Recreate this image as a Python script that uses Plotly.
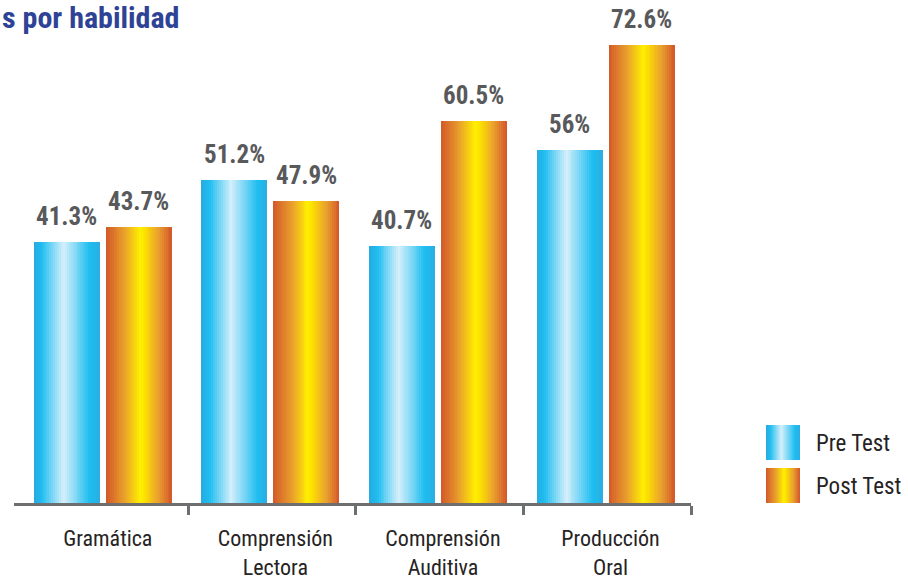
import plotly.graph_objects as go
from plotly.colors import sample_colorscale

# ---- data ----
categories = ["Gramática", "Comprensión<br>Lectora", "Comprensión<br>Auditiva", "Producción<br>Oral"]
pre_test = [41.3, 51.2, 40.7, 56.0]
post_test = [43.7, 47.9, 60.5, 72.6]
series_names = ["Pre Test", "Post Test"]
title_text = "s por habilidad"

# ---- styling ----
W, H = 908, 582
FONT = "Liberation Sans Narrow, Arial Narrow, Roboto Condensed, Liberation Sans, sans-serif"
pre_scale = [[0.0, "#2aa9e0"], [0.12, "#1dbdf0"], [0.45, "#d6effb"], [0.85, "#1dbdf0"], [1.0, "#2aaee3"]]
post_scale = [[0.0, "#d3582a"], [0.28, "#e99f2c"], [0.52, "#fff000"], [0.58, "#fde300"],
              [0.8, "#e9a02f"], [1.0, "#d3562a"]]
N_STRIPS = 34
BAR_W = 0.394
HALF_GAP = 0.018

# plot area in pixels
px_left, px_right = 14, 691
px_top, px_bottom = 10, 503
x_dom = [px_left / W, px_right / W]
y_dom = [(H - px_bottom) / H, (H - px_top) / H]
x_range = [-0.53, 3.51]
y_max = 78.14

fig = go.Figure()

x_pos = list(range(len(categories)))


def add_gradient_bars(values, left_off, scale, xaxis="x", yaxis="y"):
    cols = sample_colorscale(scale, [(k + 0.5) / N_STRIPS for k in range(N_STRIPS)])
    sw = BAR_W / N_STRIPS
    for k, c in enumerate(cols):
        extra = sw * 0.6 if k < N_STRIPS - 1 else 0
        fig.add_trace(go.Bar(
            x=x_pos, y=values, width=sw + extra, offset=left_off + k * sw,
            marker=dict(color=c, line=dict(width=0)),
            showlegend=False, hoverinfo="skip", xaxis=xaxis, yaxis=yaxis,
        ))


add_gradient_bars(pre_test, -HALF_GAP - BAR_W, pre_scale)
add_gradient_bars(post_test, HALF_GAP, post_scale)

# value labels
for vals, off in ((pre_test, -HALF_GAP - BAR_W / 2), (post_test, HALF_GAP + BAR_W / 2)):
    for i, v in enumerate(vals):
        fig.add_annotation(
            x=i + off, y=v, xref="x", yref="y", text=f"{v:g}%", showarrow=False,
            yanchor="bottom", yshift=9,
            font=dict(family=FONT, size=25, color="#58595b", weight="bold"),
        )

# legend swatches drawn as gradient strips on their own small axes
leg_names = list(reversed(series_names))
for name, scale in ((series_names[0], pre_scale), (series_names[1], post_scale)):
    cols = sample_colorscale(scale, [(k + 0.5) / N_STRIPS for k in range(N_STRIPS)])
    sw = 1.0 / N_STRIPS
    for k, c in enumerate(cols):
        extra = sw * 0.6 if k < N_STRIPS - 1 else 0
        fig.add_trace(go.Bar(
            y=[name], x=[sw + extra], base=[k * sw], orientation="h", width=0.814,
            marker=dict(color=c, line=dict(width=0)),
            showlegend=False, hoverinfo="skip", xaxis="x3", yaxis="y3",
        ))

fig.update_layout(
    width=W, height=H,
    margin=dict(l=0, r=0, t=0, b=0, autoexpand=False),
    paper_bgcolor="white", plot_bgcolor="white",
    barmode="overlay", bargap=0,
    showlegend=False,
    font=dict(family=FONT, color="#231f20"),
    xaxis=dict(domain=x_dom, range=x_range, tickvals=x_pos, ticktext=categories,
               showline=False, showgrid=False, zeroline=False, ticks="",
               tickfont=dict(size=22, color="#262324"), ticklabelstandoff=20,
               ticklabelshift=5, fixedrange=True, automargin=False),
    xaxis2=dict(domain=x_dom, range=[-0.54, 3.5], overlaying="x", anchor="y",
                tickvals=[0.5, 1.5, 2.5, 3.5], showticklabels=False,
                ticks="outside", ticklen=9, tickwidth=2.5, tickcolor="#6d6e70",
                showline=True, linecolor="#6d6e70", linewidth=2.5,
                showgrid=False, zeroline=False, automargin=False),
    yaxis=dict(domain=y_dom, range=[0, y_max], visible=False, fixedrange=True,
               automargin=False),
    xaxis3=dict(domain=[766 / W, 800 / W], range=[0, 1], anchor="y3", visible=False,
                automargin=False),
    yaxis3=dict(domain=[(H - 507) / H, (H - 421) / H], anchor="x3", side="right",
                type="category", categoryorder="array", categoryarray=leg_names,
                range=[-0.5, 1.5], showline=False, showgrid=False, zeroline=False,
                ticks="", ticklabelstandoff=15, automargin=False,
                tickfont=dict(size=23, color="#262324")),
)

fig.add_trace(go.Bar(x=[None], y=[None], xaxis="x2", yaxis="y", showlegend=False, hoverinfo="skip"))

fig.add_annotation(
    x=0, y=1, xref="paper", yref="paper", xanchor="left", yanchor="top",
    text=title_text, showarrow=False, xshift=0, yshift=2,
    font=dict(family=FONT, size=30, color="#2e4396", weight="bold"),
)

fig.write_html("out.html")
